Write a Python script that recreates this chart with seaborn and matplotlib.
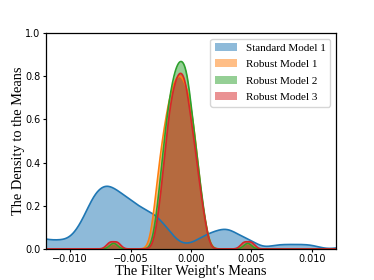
import numpy as np
import pandas as pd
import matplotlib
matplotlib.use("Agg")
import matplotlib.pyplot as plt
from matplotlib.ticker import MultipleLocator, FuncFormatter
import seaborn as sns

# ---- data: filter-weight means (positions) and number of filters at each ----
BLUE_POS = [-0.017, -0.016, -0.015, -0.014, -0.013, -0.012, -0.011, -0.010,
            -0.009, -0.008, -0.007, -0.006, -0.005, -0.004, -0.003, -0.002,
            -0.001, 0.000, 0.001, 0.002, 0.003, 0.004, 0.005, 0.007, 0.008,
            0.009, 0.010, 0.013]
STANDARD_1 = [2, 2, 3, 3, 3, 2, 2, 2, 6, 13, 15, 13, 11, 9, 8, 5,
              1, 1, 3, 4, 5, 3, 2, 1, 1, 1, 1, 1]

ROBUST_POS = [-0.0150, -0.0067, -0.0064, -0.0061, -0.0032, -0.0029, -0.0026,
              -0.0023, -0.0020, -0.0017, -0.0014, -0.0011, -0.0008, -0.0005,
              -0.0002, 0.0001, 0.0004, 0.0007, 0.0010, 0.0013, 0.0044, 0.0047,
              0.0050, 0.0150]
ROBUST_1 = [0, 0, 1, 0, 1, 4, 6, 8, 9, 11, 11, 12, 12, 11, 11, 9, 8, 4, 3, 1,
            0, 1, 0, 0]
ROBUST_2 = [0, 0, 1, 0, 0, 2, 4, 7, 9, 11, 12, 13, 13, 13, 12, 9, 7, 5, 3, 1,
            0, 1, 0, 2]
ROBUST_3 = [6, 1, 0, 1, 0, 1, 3, 5, 8, 10, 11, 12, 12, 12, 10, 8, 7, 4, 3, 1,
            1, 0, 1, 6]

LABELS = ["Standard Model 1", "Robust Model 1", "Robust Model 2", "Robust Model 3"]
COLORS = ["#1f77b4", "#ff7f0e", "#2ca02c", "#d62728"]
BANDWIDTHS = [0.00070, 0.00034, 0.00032, 0.00030]
Y_UNIT = 394.0  # density value shown as 1.0 on the y axis


def fixed_bw(sigma):
    def factor(kde):
        std = np.sqrt(np.cov(kde.dataset, aweights=kde.weights))
        return sigma / std
    return factor


series = [
    (BLUE_POS, STANDARD_1),
    (ROBUST_POS, ROBUST_1),
    (ROBUST_POS, ROBUST_2),
    (ROBUST_POS, ROBUST_3),
]

fig = plt.figure(figsize=(3.74, 2.80), dpi=100)
ax = fig.add_axes([0.123, 0.111, 0.775, 0.771])

serif = ["Liberation Serif", "DejaVu Serif"]

for (pos, cnt), lab, col, bw in zip(series, LABELS, COLORS, BANDWIDTHS):
    df = pd.DataFrame({"mean": pos, "count": cnt})
    df = df[df["count"] > 0]
    sns.kdeplot(data=df, x="mean", weights="count", bw_method=fixed_bw(bw),
                gridsize=1500, fill=True, color=col, alpha=0.5, linewidth=0,
                label=lab, ax=ax)
    sns.kdeplot(data=df, x="mean", weights="count", bw_method=fixed_bw(bw),
                gridsize=1500, fill=False, color=col, linewidth=1.2, ax=ax)

ax.set_xlim(-0.012, 0.012)
ax.set_ylim(0, Y_UNIT)
ax.yaxis.set_major_locator(MultipleLocator(Y_UNIT * 0.2))
ax.yaxis.set_major_formatter(FuncFormatter(lambda v, _: f"{v / Y_UNIT:.1f}"))
ax.xaxis.set_major_locator(MultipleLocator(0.005))

ax.tick_params(labelsize=7, length=2.5, width=0.8, pad=1.5)
for s in ax.spines.values():
    s.set_linewidth(0.9)

ax.set_xlabel("The Filter Weight's Means", fontsize=10.4, family=serif)
ax.set_ylabel("The Density to the Means", fontsize=10.4, family=serif)
ax.xaxis.set_label_coords(0.5, -0.075)
ax.yaxis.set_label_coords(-0.074, 0.5)

leg = ax.legend(loc="upper right", prop={"family": serif, "size": 8},
                handlelength=2.0, borderaxespad=0.5, labelspacing=0.6)

fig.savefig("out.png", dpi=100)
